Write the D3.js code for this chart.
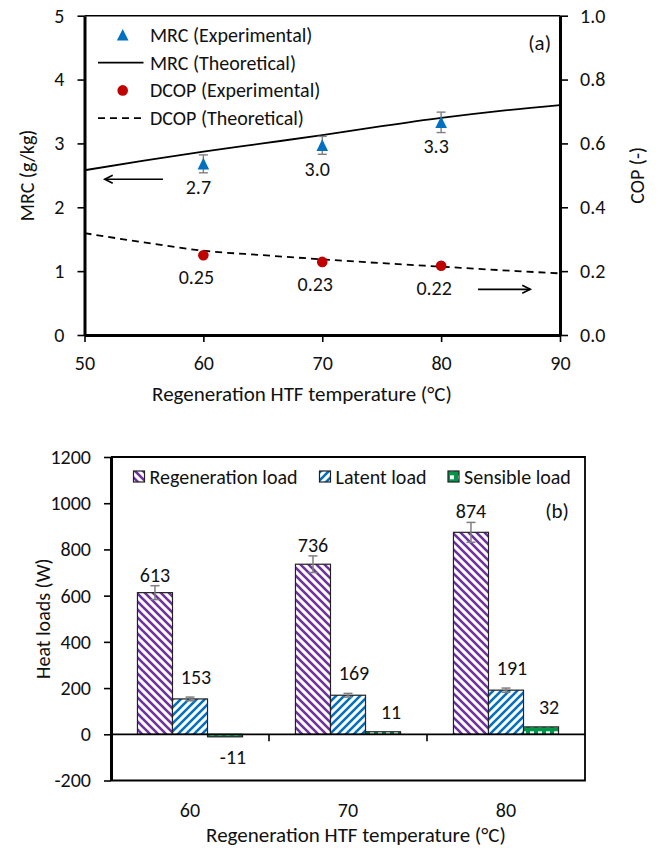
<!DOCTYPE html>
<html>
<head>
<meta charset="utf-8">
<script src="https://cdn.jsdelivr.net/npm/d3@7"></script>
<style>
  body { margin: 0; background: #fff; }
  svg { display: block; }
  text { font-family: Carlito, Calibri, Lato, sans-serif; fill: #111; }
</style>
</head>
<body>
<script>
// ---------------- DATA: chart (a) ----------------
const theoryTemps = [50, 55, 60, 65, 70, 75, 80, 85, 90];
const mrcTheory   = [2.58, 2.73, 2.87, 3.00, 3.13, 3.27, 3.40, 3.51, 3.60];
const dcopTheory  = [0.319, 0.290, 0.264, 0.250, 0.237, 0.225, 0.214, 0.203, 0.193];
const expTemps    = [60, 70, 80];
const mrcExp      = [2.68, 2.97, 3.33];
const mrcErr      = [0.14, 0.14, 0.16];
const mrcLabels   = ["2.7", "3.0", "3.3"];
const dcopExp     = [0.250, 0.229, 0.217];
const dcopLabels  = ["0.25", "0.23", "0.22"];
const xTicksA     = [50, 60, 70, 80, 90];
const yTicksLeft  = [0, 1, 2, 3, 4, 5];
const yTicksRight = [0, 0.2, 0.4, 0.6, 0.8, 1.0];
const legendA     = ["MRC (Experimental)", "MRC (Theoretical)", "DCOP (Experimental)", "DCOP (Theoretical)"];

// ---------------- DATA: chart (b) ----------------
const categories   = ["60", "70", "80"];
const seriesNames  = ["Regeneration load", "Latent load", "Sensible load"];
const regenLoad    = [613, 736, 874];
const regenErr     = [30, 36, 43];
const latentLoad   = [153, 169, 191];
const latentErr    = [8, 8, 9];
const sensibleLoad = [-11, 11, 32];
const sensibleErr  = [0, 0, 0];
const yTicksB      = [-200, 0, 200, 400, 600, 800, 1000, 1200];

const FONT = 20;
const TITLE = 21;
const svg = d3.select("body").append("svg").attr("width", 661).attr("height", 852);

// ======================= CHART (a) =======================
const xA = d3.scaleLinear().domain([50, 90]).range([84.5, 560]);
const yL = d3.scaleLinear().domain([0, 5]).range([335, 15.7]);
const yR = d3.scaleLinear().domain([0, 1]).range([335, 15.7]);
const gA = svg.append("g");

gA.append("line").attr("x1", xA(50)).attr("x2", xA(90)).attr("y1", yL(5)).attr("y2", yL(5))
  .attr("stroke", "#000").attr("stroke-width", 1.6);

function styleAxis(g, w) {
  g.select(".domain").attr("stroke", "#000").attr("stroke-width", w);
  g.selectAll(".tick line").attr("stroke", "#000").attr("stroke-width", 1.6);
  g.selectAll(".tick text").style("font-size", FONT + "px").attr("fill", "#111")
    .style("font-family", "Carlito, Calibri, Lato, sans-serif");
}
const plain = d => String(d);

const axL = gA.append("g").attr("transform", `translate(${xA(50)},0)`)
  .call(d3.axisLeft(yL).tickValues(yTicksLeft).tickSize(7).tickSizeOuter(0).tickPadding(13).tickFormat(plain));
styleAxis(axL, 3);
const axR = gA.append("g").attr("transform", `translate(${xA(90)},0)`)
  .call(d3.axisRight(yR).tickValues(yTicksRight).tickSize(8).tickSizeOuter(0).tickPadding(12).tickFormat(d3.format(".1f")));
styleAxis(axR, 3);
const axB = gA.append("g").attr("transform", `translate(0,${yL(0)})`)
  .call(d3.axisBottom(xA).tickValues(xTicksA).tickSize(7).tickSizeOuter(0).tickPadding(14).tickFormat(plain));
styleAxis(axB, 3);

gA.append("text").attr("transform", `translate(34,${(yL(0) + yL(5)) / 2}) rotate(-90)`)
  .attr("text-anchor", "middle").style("font-size", FONT + "px").text("MRC (g/kg)");
gA.append("text").attr("transform", `translate(644,${(yL(0) + yL(5)) / 2}) rotate(-90)`)
  .attr("text-anchor", "middle").style("font-size", FONT + "px").text("COP (-)");
gA.append("text").attr("x", 302).attr("y", 400.5).attr("text-anchor", "middle")
  .style("font-size", TITLE + "px").text("Regeneration HTF temperature (°C)");

const lineMRC = d3.line().x((d, i) => xA(theoryTemps[i])).y(d => yL(d)).curve(d3.curveMonotoneX);
const lineCOP = d3.line().x((d, i) => xA(theoryTemps[i])).y(d => yR(d)).curve(d3.curveMonotoneX);
gA.append("path").attr("d", lineMRC(mrcTheory)).attr("fill", "none").attr("stroke", "#000").attr("stroke-width", 1.8);
gA.append("path").attr("d", lineCOP(dcopTheory)).attr("fill", "none").attr("stroke", "#000")
  .attr("stroke-width", 1.8).attr("stroke-dasharray", "7,5");

const ebA = gA.append("g").attr("stroke", "#7f7f7f").attr("stroke-width", 1.4);
expTemps.forEach((t, i) => {
  const x = xA(t), y1 = yL(mrcExp[i] + mrcErr[i]), y2 = yL(mrcExp[i] - mrcErr[i]);
  ebA.append("line").attr("x1", x).attr("x2", x).attr("y1", y1).attr("y2", y2);
  ebA.append("line").attr("x1", x - 4.5).attr("x2", x + 4.5).attr("y1", y1).attr("y2", y1);
  ebA.append("line").attr("x1", x - 4.5).attr("x2", x + 4.5).attr("y1", y2).attr("y2", y2);
});

const triPath = "M0,-6L5.8,5.6L-5.8,5.6Z";
gA.selectAll(".tri").data(mrcExp).enter().append("path")
  .attr("d", triPath).attr("fill", "#0070C0")
  .attr("transform", (d, i) => `translate(${xA(expTemps[i])},${yL(d)})`);
gA.selectAll(".dot").data(dcopExp).enter().append("circle")
  .attr("cx", (d, i) => xA(expTemps[i])).attr("cy", d => yR(d)).attr("r", 5.3).attr("fill", "#C00000");

gA.selectAll(".mlab").data(mrcExp).enter().append("text")
  .attr("x", (d, i) => xA(expTemps[i]) - 5).attr("y", d => yL(d) + 30.5)
  .attr("text-anchor", "middle").style("font-size", FONT + "px").text((d, i) => mrcLabels[i]);
gA.selectAll(".clab").data(dcopExp).enter().append("text")
  .attr("x", (d, i) => xA(expTemps[i]) - 7).attr("y", d => yR(d) + 29)
  .attr("text-anchor", "middle").style("font-size", FONT + "px").text((d, i) => dcopLabels[i]);

function arrow(g, x1, x2, y) {
  const dir = x2 > x1 ? 1 : -1;
  g.append("line").attr("x1", x1).attr("x2", x2).attr("y1", y).attr("y2", y)
    .attr("stroke", "#000").attr("stroke-width", 1.6);
  g.append("path").attr("d", `M${x2 - dir * 8},${y - 4}L${x2},${y}L${x2 - dir * 8},${y + 4}`)
    .attr("fill", "none").attr("stroke", "#000").attr("stroke-width", 1.6);
}
arrow(gA, xA(56.6), xA(51.7), yL(2.44));
arrow(gA, xA(83.1), xA(87.5), yR(0.143));

const legA = gA.append("g");
const rowY = i => 35 + i * 27.7;
legA.append("path").attr("d", triPath).attr("fill", "#0070C0").attr("transform", `translate(122.7,${rowY(0)})`);
legA.append("line").attr("x1", 98).attr("x2", 143.5).attr("y1", rowY(1)).attr("y2", rowY(1)).attr("stroke", "#000").attr("stroke-width", 1.8);
legA.append("circle").attr("cx", 122.7).attr("cy", rowY(2)).attr("r", 5.3).attr("fill", "#C00000");
legA.append("line").attr("x1", 98).attr("x2", 143.5).attr("y1", rowY(3)).attr("y2", rowY(3)).attr("stroke", "#000")
  .attr("stroke-width", 1.8).attr("stroke-dasharray", "7,5");
legendA.forEach((t, i) => {
  legA.append("text").attr("x", 150).attr("y", rowY(i) + 7).style("font-size", FONT + "px").text(t);
});
gA.append("text").attr("x", 551).attr("y", 50).attr("text-anchor", "end").style("font-size", "21px").text("(a)");

// ======================= CHART (b) =======================
const defs = svg.append("defs");
const pReg = defs.append("pattern").attr("id", "pReg").attr("patternUnits", "userSpaceOnUse").attr("width", 8).attr("height", 8);
pReg.append("rect").attr("width", 8).attr("height", 8).attr("fill", "#fff");
pReg.append("path").attr("d", "M0,0L8,8M-4,4L4,12M4,-4L12,4").attr("stroke", "#7030A0").attr("stroke-width", 2.6);
const pLat = defs.append("pattern").attr("id", "pLat").attr("patternUnits", "userSpaceOnUse").attr("width", 8).attr("height", 8);
pLat.append("rect").attr("width", 8).attr("height", 8).attr("fill", "#fff");
pLat.append("path").attr("d", "M0,8L8,0M-4,4L4,-4M4,12L12,4").attr("stroke", "#0070C0").attr("stroke-width", 2.6);
const pSen = defs.append("pattern").attr("id", "pSen").attr("patternUnits", "userSpaceOnUse").attr("width", 8).attr("height", 8)
  .attr("y", 1.3);
pSen.append("rect").attr("width", 8).attr("height", 8).attr("fill", "#00964A");
pSen.append("rect").attr("x", 2).attr("y", 2).attr("width", 4).attr("height", 4).attr("fill", "#fff");
const fills = ["url(#pReg)", "url(#pLat)", "url(#pSen)"];

const yB = d3.scaleLinear().domain([-200, 1200]).range([780.5, 457]);
const xB = d3.scaleBand().domain(categories).range([111, 585]).paddingInner(0.335).paddingOuter(0.1675);
const xSub = d3.scaleBand().domain(seriesNames).range([0, xB.bandwidth()]);
const gB = svg.append("g");

gB.append("path").attr("d", `M111,${yB(1200)}H585V${yB(-200)}H111`).attr("fill", "none")
  .attr("stroke", "#000").attr("stroke-width", 1.8);

const seriesVals = [regenLoad, latentLoad, sensibleLoad];
const seriesErr = [regenErr, latentErr, sensibleErr];
const rows = [];
seriesNames.forEach((s, si) => categories.forEach((c, ci) => {
  rows.push({ s, si, c, v: seriesVals[si][ci], e: seriesErr[si][ci] });
}));

gB.selectAll(".bar").data(rows).enter().append("rect")
  .attr("x", d => xB(d.c) + xSub(d.s))
  .attr("width", xSub.bandwidth())
  .attr("y", d => yB(Math.max(0, d.v)))
  .attr("height", d => Math.abs(yB(d.v) - yB(0)))
  .attr("fill", d => fills[d.si]).attr("stroke", "#222").attr("stroke-width", 1.2);

const ebB = gB.append("g").attr("stroke", "#7f7f7f").attr("stroke-width", 1.5);
rows.filter(d => d.e > 0).forEach(d => {
  const x = xB(d.c) + xSub(d.s) + xSub.bandwidth() / 2;
  const y1 = yB(d.v + d.e), y2 = yB(d.v - d.e);
  ebB.append("line").attr("x1", x).attr("x2", x).attr("y1", y1).attr("y2", y2);
  ebB.append("line").attr("x1", x - 4.5).attr("x2", x + 4.5).attr("y1", y1).attr("y2", y1);
  ebB.append("line").attr("x1", x - 4.5).attr("x2", x + 4.5).attr("y1", y2).attr("y2", y2);
});

gB.append("line").attr("x1", 111).attr("x2", 585).attr("y1", yB(0)).attr("y2", yB(0))
  .attr("stroke", "#000").attr("stroke-width", 1.8);
categories.slice(1).forEach(c => {
  const x = xB(c) - xB.step() * xB.paddingInner() / 2;
  gB.append("line").attr("x1", x).attr("x2", x).attr("y1", yB(0)).attr("y2", yB(0) + 7)
    .attr("stroke", "#000").attr("stroke-width", 1.6);
});

const labOffset = [11, 20, 20];
const labDx = [0, 6, 8];
gB.selectAll(".vlab").data(rows).enter().append("text")
  .attr("x", d => xB(d.c) + xSub(d.s) + xSub.bandwidth() / 2 + labDx[d.si])
  .attr("y", d => d.v >= 0 ? yB(d.v + d.e) - labOffset[d.si] + 7 : yB(d.v - d.e) + labOffset[d.si] + 7)
  .attr("text-anchor", "middle").style("font-size", FONT + "px").text(d => String(d.v));

const axLB = gB.append("g").attr("transform", "translate(111,0)")
  .call(d3.axisLeft(yB).tickValues(yTicksB).tickSize(7).tickSizeOuter(0).tickPadding(13).tickFormat(plain));
styleAxis(axLB, 3);

gB.selectAll(".catlab").data(categories).enter().append("text")
  .attr("x", d => xB(d) + xB.bandwidth() / 2).attr("y", 817)
  .attr("text-anchor", "middle").style("font-size", FONT + "px").text(d => d);

gB.append("text").attr("transform", `translate(50,${(yB(-200) + yB(1200)) / 2}) rotate(-90)`)
  .attr("text-anchor", "middle").style("font-size", FONT + "px").text("Heat loads (W)");
gB.append("text").attr("x", 356).attr("y", 841.5).attr("text-anchor", "middle")
  .style("font-size", TITLE + "px").text("Regeneration HTF temperature (°C)");
gB.append("text").attr("x", 569).attr("y", 518).attr("text-anchor", "end").style("font-size", "21px").text("(b)");

const legXs = [133.5, 319.5, 448];
const legB = gB.append("g");
seriesNames.forEach((s, i) => {
  legB.append("rect").attr("x", legXs[i]).attr("y", 471).attr("width", 11).attr("height", 11)
    .attr("fill", fills[i]).attr("stroke", "#222").attr("stroke-width", 1.2);
  legB.append("text").attr("x", legXs[i] + 16).attr("y", 483.5).style("font-size", FONT + "px").text(s);
});
</script>
</body>
</html>
